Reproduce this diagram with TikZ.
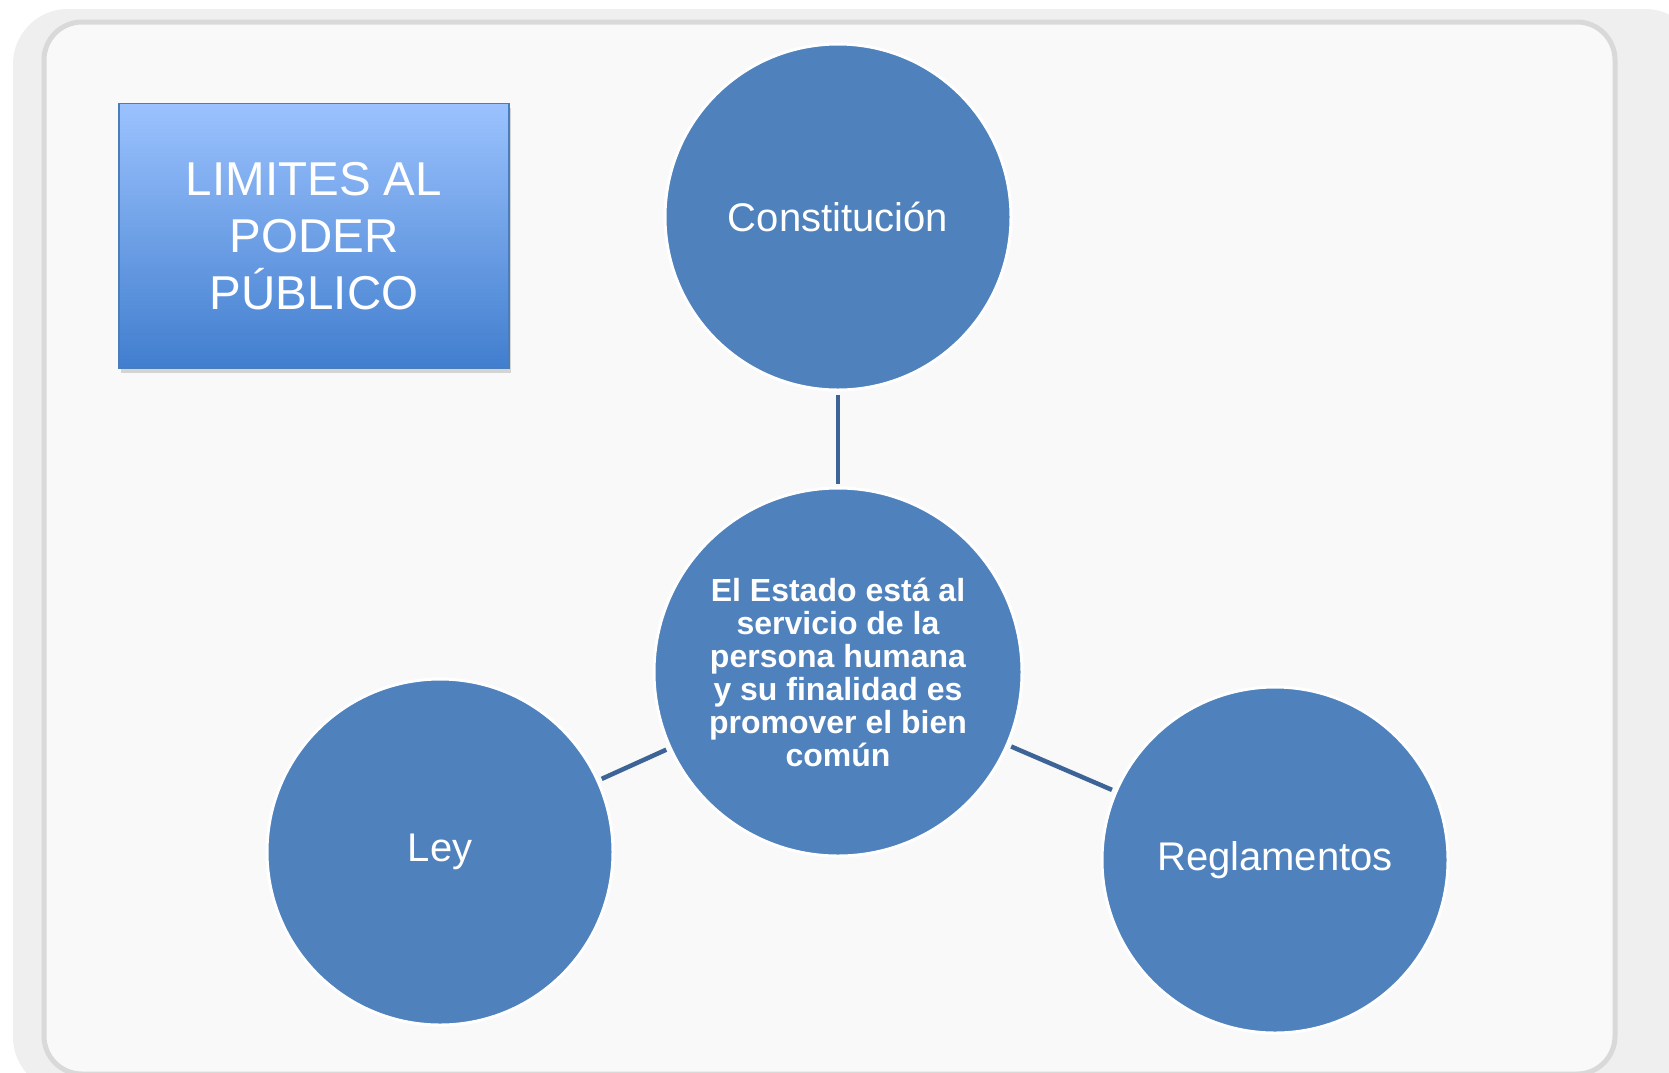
\documentclass[tikz,border=0pt]{standalone}
\usepackage{fontspec}
\setmainfont{Liberation Sans}
\usetikzlibrary{shadows}

\definecolor{circblue}{HTML}{4F81BD}
\definecolor{linkblue}{HTML}{3C6496}
\definecolor{titletop}{HTML}{9BC2FE}
\definecolor{titlebot}{HTML}{417ECE}
\definecolor{titleline}{HTML}{4A7EBB}
\definecolor{framegray}{HTML}{EFEFEF}
\definecolor{innerbg}{HTML}{F9F9F9}
\definecolor{innerline}{HTML}{D9D9D9}

\begin{document}
\begin{tikzpicture}[x=1pt,y=-1pt,
    bubble/.style={circle,fill=circblue,draw=white,line width=3pt,text=white,
        inner sep=0pt,minimum size=346pt,font=\fontsize{40}{46}\selectfont},
    titlebox/.style={rectangle,draw=titleline,line width=1.2pt,top color=titletop,
        bottom color=titlebot,text=white,align=center,minimum width=390pt,
        minimum height=265pt,font=\fontsize{47.5}{57}\selectfont,
        drop shadow={opacity=0.3,shadow xshift=2pt,shadow yshift=-4pt}},
    link/.style={draw=linkblue,line width=4.5pt,shorten <=3pt,shorten >=3pt}]
    \useasboundingbox (0,0) rectangle (1669,1072);
    % background frames
    \fill[framegray,rounded corners=55pt] (13,9) rectangle (1700,1092);
    \draw[fill=innerbg,draw=innerline,line width=5pt,rounded corners=38pt] (44,22) rectangle (1615,1074);
    % title
    \node[titlebox] (tit) at (314,236) {LIMITES AL\\PODER\\PÚBLICO};
    % circles
    \node[bubble] (con) at (838,217) {Constitución};
    \node[bubble,minimum size=368pt,align=center,font=\bfseries\fontsize{32}{33}\selectfont] (est) at (838,672)
        {El Estado está al\\servicio de la\\persona humana\\y su finalidad es\\promover el bien\\común};
    \node[bubble] (ley) at (440,852) {Ley};
    \node[bubble] (reg) at (1275,860) {Reglamentos};
    \foreach \n in {con,ley,reg}
        \draw[link] (est) -- (\n);
\end{tikzpicture}
\end{document}
